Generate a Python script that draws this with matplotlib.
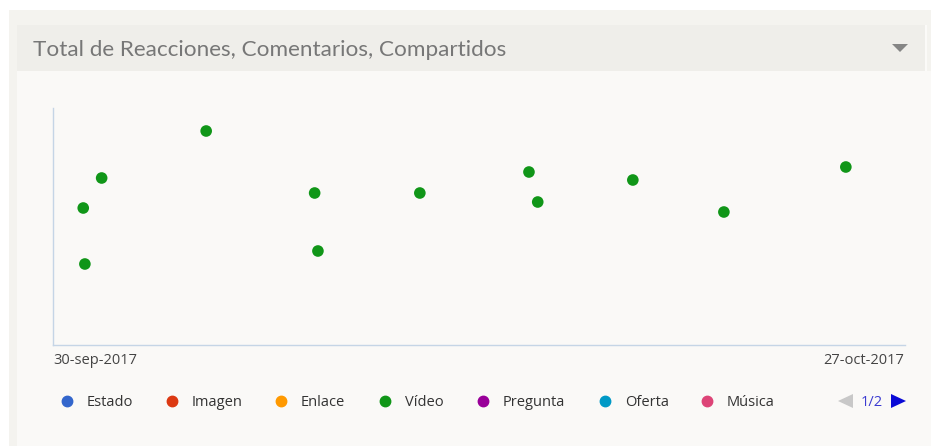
import matplotlib
matplotlib.use('Agg')
import matplotlib.pyplot as plt
from matplotlib.patches import Rectangle, Polygon
from matplotlib.lines import Line2D
import pandas as pd

W, H = 931, 446

title = 'Total de Reacciones, Comentarios, Compartidos'
start_label = '30-sep-2017'
end_label = '27-oct-2017'
x_start = pd.Timestamp('2017-09-30')
x_end = pd.Timestamp('2017-10-27')

# post times and total interactions (video posts)
post_times = pd.to_datetime([
    '2017-09-30 23:00', '2017-10-01 00:15', '2017-10-01 13:00',
    '2017-10-04 20:30', '2017-10-08 07:00', '2017-10-08 09:30',
    '2017-10-11 15:00', '2017-10-15 02:00', '2017-10-15 08:40',
    '2017-10-18 09:00', '2017-10-21 06:15', '2017-10-25 03:00',
])
totals = [137, 81, 167, 214, 152, 94, 152, 173, 143, 165, 133, 178]

legend_names = ['Estado', 'Imagen', 'Enlace', 'Vídeo', 'Pregunta', 'Oferta', 'Música']
legend_colors = ['#3366cc', '#dc3912', '#ff9900', '#109618', '#990099', '#0099c6', '#dd4477']
col_video = '#109618'
col_axis = '#c5d5e6'


def px(x, y):
    # pixel coords (top-left origin) -> figure fraction
    return x / W, 1 - y / H


fig = plt.figure(figsize=(W / 100, H / 100), dpi=100)
fig.patch.set_facecolor('white')

# panel, header and body backgrounds
def rect(x0, y0, x1, y1, color):
    fig.add_artist(Rectangle(px(x0, y1), (x1 - x0) / W, (y1 - y0) / H,
                             transform=fig.transFigure, facecolor=color,
                             edgecolor='none', zorder=0))

rect(9, 10, 931, 446, '#f4f3ef')
rect(17, 25, 925, 71, '#efeeea')
rect(17, 71, 931, 446, '#faf9f7')
rect(925, 25, 927, 71, '#fbfaf8')

fig.text(*px(33, 50), title, fontsize=16.2, color='#777777',
         family='Lato', ha='left', va='center')
fig.add_artist(Polygon([px(892, 44), px(908, 44), px(900, 52)], closed=True,
                       transform=fig.transFigure, facecolor='#858585',
                       edgecolor='none'))

ax = fig.add_axes([53 / W, (H - 345) / H, 852 / W, 237 / H])
ax.set_facecolor('none')
ax.scatter(post_times, totals, s=70, color=col_video, edgecolors='none', zorder=3)
ax.set_xlim(x_start, x_end)
ax.set_ylim(0, 237)
for side in ['top', 'right']:
    ax.spines[side].set_visible(False)
for side in ['left', 'bottom']:
    ax.spines[side].set_color(col_axis)
    ax.spines[side].set_linewidth(1)
ax.set_xticks([])
ax.set_yticks([])

fig.text(*px(53, 361), start_label, fontsize=10.5, color='#444444',
         family='Open Sans', ha='left', va='center')
fig.text(*px(904, 361), end_label, fontsize=10.5, color='#444444',
         family='Open Sans', ha='right', va='center')

# legend row
marker_x = [67, 172, 281, 385, 483, 605, 707]
for mx, name, color in zip(marker_x, legend_names, legend_colors):
    fig.add_artist(Line2D([mx / W], [1 - 401 / H], marker='o', markersize=7.5,
                          color=color, linestyle='none',
                          transform=fig.transFigure))
    fig.text(*px(mx + 20, 403), name, fontsize=10.5, color='#333333',
             family='Open Sans', ha='left', va='center')

# pager
fig.add_artist(Polygon([px(838, 401), px(853, 394), px(853, 408)], closed=True,
                       transform=fig.transFigure, facecolor='#c8c8c8',
                       edgecolor='none'))
fig.text(*px(872, 403), '1/2', fontsize=10.5, color='#3b3bd1',
         family='Open Sans', ha='center', va='center')
fig.add_artist(Polygon([px(891, 394), px(906, 401), px(891, 408)], closed=True,
                       transform=fig.transFigure, facecolor='#0a0ad6',
                       edgecolor='none'))

fig.savefig('out.png', dpi=100)
